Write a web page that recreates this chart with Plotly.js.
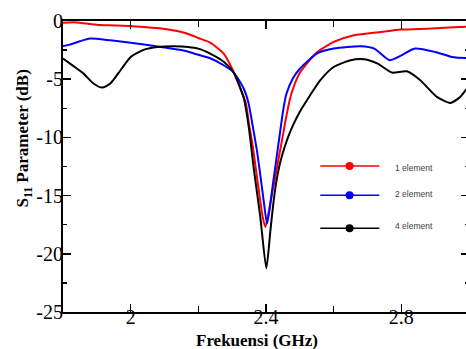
<!DOCTYPE html>
<html>
<head>
<meta charset="utf-8">
<script src="https://cdn.plot.ly/plotly-3.0.1.min.js"></script>
<style>
html, body { margin: 0; padding: 0; overflow: hidden; background: #fff; }
#chart { width: 469px; height: 349px; }
</style>
</head>
<body>
<div id="chart"></div>
<script>
// Frequency (GHz) and S11 (dB) for each array configuration
const freq1 = [1.80, 1.83, 1.87, 1.91, 1.95, 2.00, 2.04, 2.09, 2.15, 2.18, 2.20, 2.235, 2.275, 2.30, 2.32, 2.34, 2.35, 2.36, 2.37, 2.38, 2.39, 2.398, 2.41, 2.42, 2.43, 2.44, 2.45, 2.46, 2.47, 2.48, 2.50, 2.55, 2.60, 2.66, 2.74, 2.80, 2.89, 2.97, 3.00];
const s11_1 = [-0.15, -0.1, -0.22, -0.34, -0.38, -0.43, -0.52, -0.65, -0.95, -1.22, -1.46, -1.85, -2.8, -4.1, -5.5, -7.0, -8.9, -10.6, -12.7, -14.8, -16.8, -17.7, -16.1, -14.5, -12.95, -11.4, -9.8, -8.2, -6.8, -5.8, -4.45, -2.7, -1.8, -1.23, -0.94, -0.74, -0.65, -0.51, -0.48];

const freq2 = [1.80, 1.82, 1.85, 1.88, 1.94, 2.00, 2.09, 2.15, 2.20, 2.235, 2.275, 2.304, 2.334, 2.348, 2.36, 2.373, 2.383, 2.393, 2.403, 2.41, 2.42, 2.43, 2.44, 2.45, 2.46, 2.48, 2.50, 2.55, 2.60, 2.64, 2.68, 2.72, 2.765, 2.80, 2.84, 2.90, 2.95, 2.99, 3.00];
const s11_2 = [-2.15, -2.03, -1.74, -1.51, -1.66, -1.86, -2.23, -2.5, -2.9, -3.2, -3.8, -4.4, -5.8, -7.0, -8.9, -11.1, -13.2, -15.4, -17.4, -16.3, -14.1, -12.0, -9.9, -7.8, -6.3, -4.9, -4.1, -2.8, -2.37, -2.23, -2.17, -2.37, -3.37, -2.95, -2.37, -2.66, -3.09, -3.17, -3.15];

const freq4 = [1.80, 1.83, 1.86, 1.89, 1.916, 1.94, 1.97, 2.00, 2.04, 2.08, 2.13, 2.17, 2.20, 2.235, 2.275, 2.304, 2.334, 2.35, 2.363, 2.383, 2.401, 2.413, 2.422, 2.43, 2.44, 2.45, 2.465, 2.48, 2.50, 2.53, 2.56, 2.60, 2.65, 2.69, 2.73, 2.772, 2.80, 2.817, 2.856, 2.905, 2.945, 2.974, 2.99, 3.00];
const s11_4 = [-3.23, -3.86, -4.5, -5.37, -5.72, -5.37, -4.23, -3.09, -2.46, -2.23, -2.17, -2.23, -2.37, -2.8, -3.5, -4.4, -6.6, -9.3, -12.5, -16.8, -21.25, -18.0, -15.6, -13.9, -12.4, -11.3, -10.0, -8.95, -7.8, -6.4, -5.1, -3.95, -3.37, -3.29, -3.66, -4.43, -4.35, -4.32, -5.09, -6.52, -7.04, -6.52, -5.95, -5.7];

const seriesNames = ['1 element', '2 element', '4 element'];
const seriesColors = ['#ff0000', '#0000ff', '#000000'];

const xTickVals = [2.0, 2.4, 2.8];
const xTickText = ['2', '2.4', '2.8'];
const yTickVals = [0, -5, -10, -15, -20, -25];
const yTickText = ['0', '-5', '-10', '-15', '-20', '-25'];

const xs = [freq1, freq2, freq4];
const ys = [s11_1, s11_2, s11_4];

const traces = xs.map((x, i) => ({
  x: x, y: ys[i], type: 'scatter', mode: 'lines', name: seriesNames[i],
  line: { color: seriesColors[i], width: 2, shape: 'spline', smoothing: 0.6 },
  hoverinfo: 'skip'
}));

// legend drawn as decoration (line + dot + text) inside plot area
const legX0 = 2.5604, legX1 = 2.7349, legXm = 2.647, legTx = 2.775;
const legY = [-12.45, -14.96, -17.8];
const legTY = [-12.6, -14.9, -17.65];
const shapes = [];
const annotations = [];
seriesNames.forEach((n, i) => {
  shapes.push({ type: 'line', xref: 'x', yref: 'y', x0: legX0, x1: legX1, y0: legY[i], y1: legY[i],
    line: { color: seriesColors[i], width: 1.5 } });
  shapes.push({ type: 'circle', xref: 'x', yref: 'y', xsizemode: 'pixel', ysizemode: 'pixel',
    xanchor: legXm, yanchor: legY[i], x0: -4, x1: 4, y0: -4, y1: 4,
    fillcolor: seriesColors[i], line: { color: seriesColors[i], width: 0 } });
  annotations.push({ xref: 'x', yref: 'y', x: legTx, y: legTY[i], xanchor: 'left', yanchor: 'middle',
    text: n, showarrow: false, font: { family: 'Liberation Sans, Arial, sans-serif', size: 8.5, color: '#404040' } });
});
annotations.push({ xref: 'paper', yref: 'paper', x: -0.096, y: 0.596, xanchor: 'center', yanchor: 'middle',
  textangle: -90, showarrow: false, text: '<b>S<sub>11</sub> Parameter (dB)</b>',
  font: { family: 'Liberation Serif, Times New Roman, serif', size: 17, color: '#000' } });
annotations.push({ xref: 'paper', yref: 'paper', x: 0.479, y: -0.097, xanchor: 'center', yanchor: 'middle',
  showarrow: false, text: '<b>Frekuensi (GHz)</b>',
  font: { family: 'Liberation Serif, Times New Roman, serif', size: 17, color: '#000' } });

const axisFont = { family: 'Liberation Serif, Times New Roman, serif', size: 20, color: '#000' };

const layout = {
  width: 469, height: 349,
  margin: { l: 63, r: 0, t: 21, b: 37, pad: 0 },
  paper_bgcolor: '#fff', plot_bgcolor: '#fff',
  showlegend: false,
  xaxis: {
    range: [1.8, 3.0], showgrid: false, zeroline: false,
    showline: true, linecolor: '#000', linewidth: 2, mirror: 'ticks',
    tickmode: 'array', tickvals: xTickVals, ticktext: xTickText,
    ticks: 'inside', ticklen: 8, tickwidth: 1.5, tickcolor: '#000',
    ticklabelstandoff: -14,
    minor: { tickmode: 'linear', tick0: 1.8, dtick: 0.2, ticks: 'inside', ticklen: 6, tickwidth: 1.5, tickcolor: '#000', showgrid: false },
    tickfont: axisFont
  },
  yaxis: {
    range: [-25, 0], showgrid: false, zeroline: false,
    showline: true, linecolor: '#000', linewidth: 2, mirror: 'ticks',
    tickmode: 'array', tickvals: yTickVals, ticktext: yTickText,
    ticks: 'inside', ticklen: 8, tickwidth: 1.5, tickcolor: '#000',
    ticklabelstandoff: -6,
    minor: { tickmode: 'linear', tick0: 0, dtick: 2.5, ticks: 'inside', ticklen: 4, tickwidth: 1.5, tickcolor: '#000', showgrid: false },
    tickfont: axisFont
  },
  shapes: shapes,
  annotations: annotations
};

Plotly.newPlot('chart', traces, layout, { displayModeBar: false, staticPlot: true });
</script>
</body>
</html>
